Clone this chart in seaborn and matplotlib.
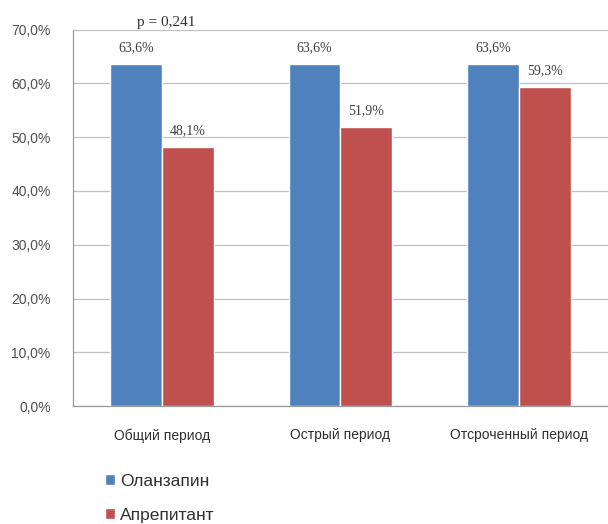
import matplotlib
matplotlib.use("Agg")
from matplotlib import pyplot as plt
from matplotlib.ticker import FuncFormatter, FixedLocator
import pandas as pd
import seaborn as sns

# Data
periods = ["Общий период", "Острый период", "Отсроченный период"]
drugs = ["Оланзапин", "Апрепитант"]
olanzapine = [63.6, 63.6, 63.6]
aprepitant = [48.1, 51.9, 59.3]
p_value_text = "p = 0,241"

colors = ["#4F81BD", "#C0504D"]


def pct(v, pos=None):
    return f"{v:.1f}%".replace(".", ",")


def main():
    sns.set_style("white")
    plt.rcParams["font.family"] = ["Liberation Sans", "DejaVu Sans"]

    df = pd.DataFrame({
        "period": periods * 2,
        "drug": [drugs[0]] * 3 + [drugs[1]] * 3,
        "value": olanzapine + aprepitant,
    })

    fig = plt.figure(figsize=(6.08, 5.24), dpi=100)
    ax = fig.add_axes([0.120, 0.225, 0.880, 0.7185])

    sns.barplot(data=df, x="period", y="value", hue="drug", palette=colors,
                width=0.58, saturation=1, ax=ax, legend=True, zorder=3)

    ax.set_ylim(0, 70)
    ax.set_xlim(-0.5, 2.5)
    ax.yaxis.set_major_locator(FixedLocator(range(0, 71, 10)))
    ax.yaxis.set_major_formatter(FuncFormatter(pct))
    ax.grid(axis="y", color="#c0c0c0", linewidth=0.9, zorder=0)
    ax.set_axisbelow(True)

    for side in ["top", "right"]:
        ax.spines[side].set_visible(False)
    for side in ["left", "bottom"]:
        ax.spines[side].set_color("#9a9a9a")
        ax.spines[side].set_linewidth(0.9)

    ax.tick_params(axis="y", length=4, color="#9a9a9a", labelsize=10,
                   labelcolor="#505050", pad=12)
    ax.tick_params(axis="x", which="major", length=0, labelsize=10,
                   labelcolor="#303030", pad=16)
    ax.set_xticks([0.5, 1.5], minor=True)
    ax.tick_params(axis="x", which="minor", length=4, color="#9a9a9a")
    ax.set_xlabel("")
    ax.set_ylabel("")

    for cont in ax.containers:
        ax.bar_label(cont, labels=[pct(v) for v in cont.datavalues],
                     padding=7, fontsize=10, color="#404040",
                     family="Liberation Serif")

    ax.text(0.02, 71.4, p_value_text, ha="center", va="center", fontsize=11,
            family="Liberation Serif", color="#303030", clip_on=False)

    handles, labels = ax.get_legend_handles_labels()
    ax.get_legend().remove()
    fig.legend(handles, labels, loc="upper left",
               bbox_to_anchor=(0.158, 0.112), frameon=False, fontsize=12.5,
               handlelength=0.6, handleheight=0.6, handletextpad=0.3,
               labelspacing=1.1, borderpad=0, labelcolor="#303030")

    fig.savefig("out.png", dpi=100)


if __name__ == "__main__":
    main()
